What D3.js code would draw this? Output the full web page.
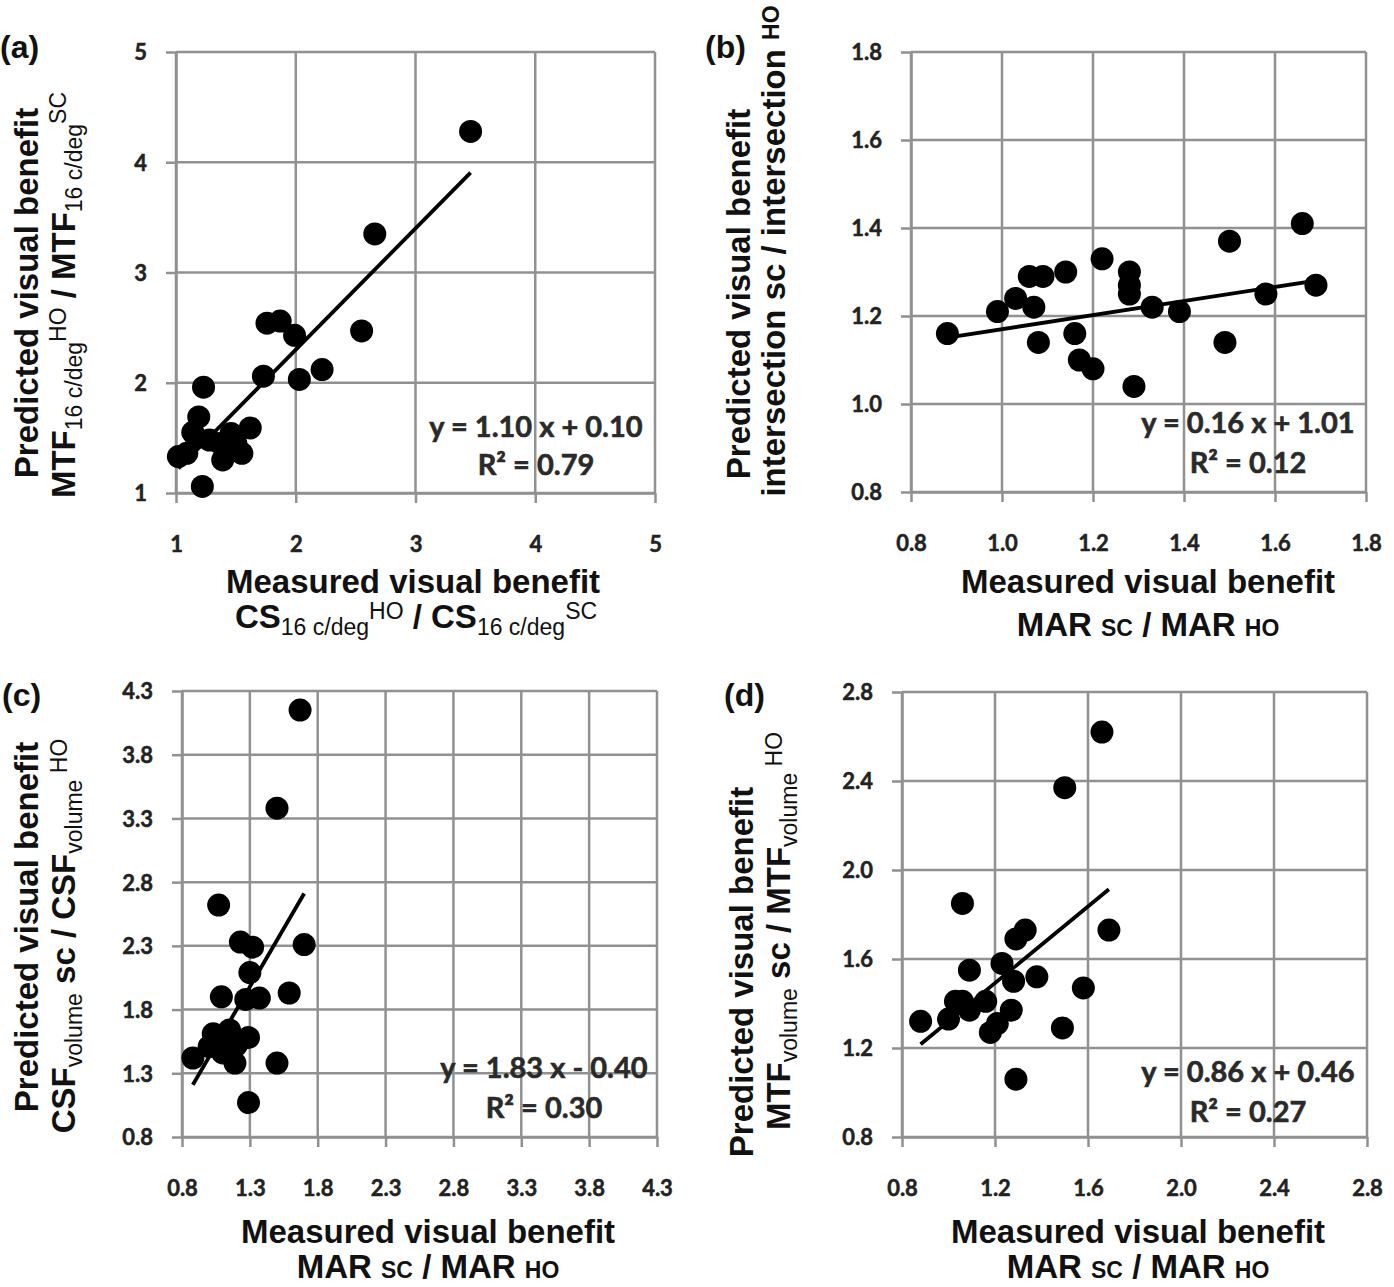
<!DOCTYPE html>
<html><head><meta charset="utf-8">
<script src="https://cdn.jsdelivr.net/npm/d3@7"></script>
<style>body{margin:0;background:#fff}text{white-space:pre}</style>
</head><body>
<svg id="chart" width="1394" height="1287"></svg>
<script>
// ---------- DATA ----------
const aTicks = [1, 2, 3, 4, 5];
const aPoints = [[3.46,4.28],[2.66,3.35],[2.55,2.47],[1.76,2.54],[1.87,2.56],[1.99,2.43],[2.22,2.12],[2.03,2.03],[1.73,2.06],[1.23,1.96],[1.19,1.69],[1.14,1.55],[1.09,1.36],[1.02,1.33],[1.22,1.06],[1.39,1.30],[1.46,1.54],[1.62,1.59],[1.55,1.36],[1.37,1.45],[1.28,1.48],[1.50,1.45],[1.17,1.50]];
const aFit = [1.10, 0.10];
const aEq = ["y = 1.10 x + 0.10", "R² = 0.79"];

const bTicks = [0.8, 1.0, 1.2, 1.4, 1.6, 1.8];
const bPoints = [[0.88,1.16],[0.99,1.21],[1.03,1.24],[1.07,1.22],[1.06,1.29],[1.09,1.29],[1.14,1.30],[1.22,1.33],[1.28,1.30],[1.28,1.25],[1.33,1.22],[1.39,1.21],[1.08,1.14],[1.16,1.16],[1.17,1.10],[1.20,1.08],[1.29,1.04],[1.50,1.37],[1.49,1.14],[1.58,1.25],[1.66,1.41],[1.69,1.27],[1.28,1.27]];
const bFit = [0.16, 1.01];
const bEq = ["y = 0.16 x + 1.01", "R² = 0.12"];

const cTicks = [0.8, 1.3, 1.8, 2.3, 2.8, 3.3, 3.8, 4.3];
const cPoints = [[1.67,4.15],[1.50,3.38],[1.07,2.62],[1.70,2.31],[1.23,2.33],[1.32,2.29],[1.30,2.09],[1.09,1.90],[1.27,1.88],[1.37,1.89],[1.59,1.93],[1.03,1.61],[1.15,1.64],[1.29,1.58],[0.88,1.42],[1.00,1.51],[1.19,1.38],[1.10,1.46],[1.50,1.38],[1.29,1.07],[1.08,1.55],[1.20,1.52]];
const cFit = [1.83, -0.40];
const cEq = ["y = 1.83 x - 0.40", "R² = 0.30"];

const dTicks = [0.8, 1.2, 1.6, 2.0, 2.4, 2.8];
const dPoints = [[1.66,2.62],[1.50,2.37],[1.06,1.85],[1.69,1.73],[1.29,1.69],[1.33,1.73],[1.09,1.55],[1.23,1.58],[1.38,1.52],[1.28,1.50],[1.58,1.47],[0.88,1.32],[1.00,1.33],[1.03,1.41],[1.09,1.37],[1.16,1.41],[1.27,1.37],[1.18,1.27],[1.21,1.31],[1.49,1.29],[1.29,1.06],[1.06,1.41]];
const dFit = [0.86, 0.46];
const dEq = ["y = 0.86 x + 0.46", "R² = 0.27"];

// ---------- LAYOUT ----------
const svg = d3.select("#chart");
const TITLE = "'Liberation Sans', Arial, Helvetica, sans-serif";
const TICKF = "Lato, 'Open Sans', sans-serif";
const GRID = "#919191";

function rich(x, y, rot, segs) {
  const t = svg.append("text")
    .attr("transform", `translate(${x},${y}) rotate(${rot})`)
    .attr("text-anchor", "middle")
    .attr("font-family", TITLE)
    .attr("fill", "#111");
  let prev = 0;
  segs.forEach(([s, fs, sh, w]) => {
    t.append("tspan").attr("font-size", fs).attr("font-weight", w || "bold")
      .attr("dy", sh - prev).text(s);
    prev = sh;
  });
}

function panel(cfg) {
  const {ticks, pts, fit, eq, x0, x1, y0, y1, fmt, eqx, eqy} = cfg;
  const x = d3.scaleLinear().domain([ticks[0], ticks[ticks.length - 1]]).range([x0, x1]);
  const y = d3.scaleLinear().domain([ticks[0], ticks[ticks.length - 1]]).range([y0, y1]);
  const g = svg.append("g");
  // grid
  g.selectAll(".vx").data(ticks).join("line")
    .attr("x1", d => x(d)).attr("x2", d => x(d)).attr("y1", y0).attr("y2", y1)
    .attr("stroke", GRID).attr("stroke-width", 2.5);
  g.selectAll(".hy").data(ticks).join("line").attr("class", "hy")
    .attr("y1", d => y(d)).attr("y2", d => y(d)).attr("x1", x0).attr("x2", x1)
    .attr("stroke", GRID).attr("stroke-width", 2.5);
  // axes
  const ax = g.append("g").attr("transform", `translate(0,${y0})`)
    .call(d3.axisBottom(x).tickValues(ticks).tickSizeInner(10).tickSizeOuter(0).tickFormat(fmt));
  const ay = g.append("g").attr("transform", `translate(${x0},0)`)
    .call(d3.axisLeft(y).tickValues(ticks).tickSizeInner(10).tickSizeOuter(0).tickFormat(fmt));
  [ax, ay].forEach(a => {
    a.select(".domain").attr("stroke", GRID).attr("stroke-width", 2.5);
    a.selectAll(".tick line").attr("stroke", GRID).attr("stroke-width", 2.5);
    a.selectAll(".tick text").attr("font-family", TICKF).attr("font-weight", "bold")
      .attr("font-size", 22).attr("fill", "#222")
      .attr("stroke", "#222").attr("stroke-width", 0.5);
  });
  ax.selectAll(".tick text").attr("y", 59).attr("dy", 0);
  ay.selectAll(".tick text").attr("x", -29).attr("dy", "0.36em");
  // trend line
  const xs = pts.map(p => p[0]);
  const ext = d3.extent(xs);
  const line = d3.line().x(d => x(d)).y(d => y(fit[0] * d + fit[1]));
  g.append("path").attr("d", line(ext)).attr("stroke", "#000").attr("stroke-width", 3.8).attr("fill", "none");
  // points
  g.selectAll("circle").data(pts).join("circle")
    .attr("cx", d => x(d[0])).attr("cy", d => y(d[1])).attr("r", 11.5).attr("fill", "#000");
  // equation
  g.selectAll(".eq").data(eq).join("text")
    .attr("x", eqx).attr("y", (d, i) => eqy[i]).attr("text-anchor", "middle")
    .attr("font-family", TICKF).attr("font-weight", "bold").attr("font-size", 29)
    .attr("fill", "#2a2a2a").attr("stroke", "#2a2a2a").attr("stroke-width", 0.6).text(d => d);
}

const f0 = d3.format("d"), f1 = d3.format(".1f");
panel({ticks: aTicks, pts: aPoints, fit: aFit, eq: aEq, x0: 176, x1: 655, y0: 493, y1: 52, fmt: f0, eqx: 536, eqy: [437, 475]});
panel({ticks: bTicks, pts: bPoints, fit: bFit, eq: bEq, x0: 911, x1: 1366, y0: 492, y1: 52, fmt: f1, eqx: 1248, eqy: [433, 473]});
panel({ticks: cTicks, pts: cPoints, fit: cFit, eq: cEq, x0: 182, x1: 657, y0: 1137, y1: 691, fmt: f1, eqx: 544, eqy: [1078, 1118]});
panel({ticks: dTicks, pts: dPoints, fit: dFit, eq: dEq, x0: 902, x1: 1367, y0: 1137, y1: 692, fmt: f1, eqx: 1248, eqy: [1082, 1122]});

// panel letters
[["(a)", 0, 58], ["(b)", 705, 58], ["(c)", 2, 706], ["(d)", 724, 706]].forEach(([s, px, py]) =>
  svg.append("text").attr("x", px).attr("y", py).attr("font-family", TITLE)
    .attr("font-weight", "bold").attr("font-size", 32).attr("fill", "#111").text(s));

const M = 33, S = 23;
// (a)
rich(38, 293, -90, [["Predicted visual benefit", M, 0]]);
rich(75, 295, -90, [["MTF", M, 0], ["16 c/deg", S, 7, "normal"], ["HO", S, -9, "normal"], [" / MTF", M, 0], ["16 c/deg", S, 7, "normal"], ["SC", S, -9, "normal"]]);
rich(413, 593, 0, [["Measured visual benefit", M, 0]]);
rich(416, 628, 0, [["CS", M, 0], ["16 c/deg", S, 7, "normal"], ["HO", S, -9, "normal"], [" / CS", M, 0], ["16 c/deg", S, 7, "normal"], ["SC", S, -9, "normal"]]);
// (b)
rich(750, 294, -90, [["Predicted visual benefit", M, 0]]);
rich(785, 251, -90, [["intersection sc / intersection ", M, 0], ["HO", S, -6]]);
rich(1148, 593, 0, [["Measured visual benefit", M, 0]]);
rich(1148, 636, 0, [["MAR ", M, 0], ["SC", S, 0], [" / MAR ", M, 0], ["HO", S, 0]]);
// (c)
rich(38, 927, -90, [["Predicted visual benefit", M, 0]]);
rich(75, 936, -90, [["CSF", M, 0], ["volume", S, 7, "normal"], [" sc / CSF", M, 0], ["volume", S, 7, "normal"], [" HO", S, -8, "normal"]]);
rich(428, 1243, 0, [["Measured visual benefit", M, 0]]);
rich(428, 1278, 0, [["MAR ", M, 0], ["SC", S, 0], [" / MAR ", M, 0], ["HO", S, 0]]);
// (d)
rich(753, 972, -90, [["Predicted visual benefit", M, 0]]);
rich(790, 931, -90, [["MTF", M, 0], ["volume", S, 7, "normal"], [" sc / MTF", M, 0], ["volume", S, 7, "normal"], [" HO", S, -8, "normal"]]);
rich(1138, 1243, 0, [["Measured visual benefit", M, 0]]);
rich(1138, 1278, 0, [["MAR ", M, 0], ["SC", S, 0], [" / MAR ", M, 0], ["HO", S, 0]]);
</script>
</body></html>
